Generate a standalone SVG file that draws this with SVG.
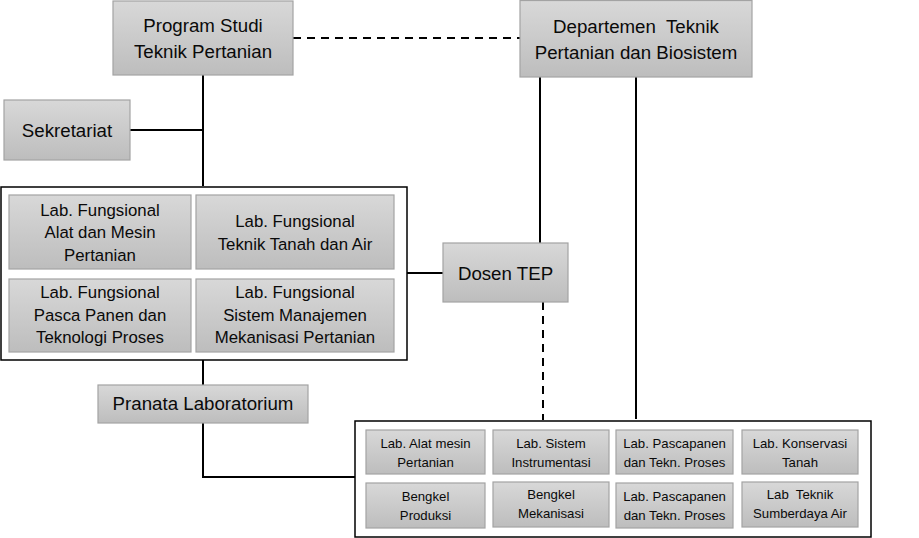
<svg xmlns="http://www.w3.org/2000/svg" width="919" height="538" viewBox="0 0 919 538">
<defs>
<linearGradient id="g" x1="0" y1="0" x2="0" y2="1">
<stop offset="0" stop-color="#d8d8d8"/>
<stop offset="1" stop-color="#bdbdbd"/>
</linearGradient>
<style>
.n{fill:url(#g);stroke:#a3a3a3;stroke-width:1.2}
.c{fill:#fff;stroke:#000;stroke-width:1.5}
.l{fill:none;stroke:#000;stroke-width:2}
.d{fill:none;stroke:#000;stroke-width:2;stroke-dasharray:8,6}
text{font-family:"Liberation Sans",Arial,sans-serif;fill:#0a0a0a;text-anchor:middle}
.t1{font-size:18.7px}
.t2{font-size:16.8px}
.t3{font-size:13.2px}
</style>
</defs>
<g id="connectors">
<path class="d" d="M293,38H520"/>
<path class="l" d="M203,75V186"/>
<path class="l" d="M130,130H203"/>
<path class="l" d="M540,77V243"/>
<path class="l" d="M636,77V419"/>
<path class="l" d="M407,273H443"/>
<path class="d" d="M543,302V420"/>
<path class="l" d="M203,360V385"/>
<path class="l" d="M203,423V477H355"/>
</g>
<g id="container-lab-fungsional"><rect class="c" x="1" y="187" width="406" height="173"/></g>
<g id="container-lab"><rect class="c" x="355" y="421" width="516" height="116"/></g>
<g id="prodi"><rect class="n" x="113" y="1" width="180" height="74"/><text class="t1" x="203" y="32">Program Studi</text><text class="t1" x="203" y="58">Teknik Pertanian</text></g>
<g id="departemen"><rect class="n" x="520" y="0.5" width="232" height="76.5"/><text class="t1" x="636" y="33" xml:space="preserve">Departemen  Teknik</text><text class="t1" x="636" y="59">Pertanian dan Biosistem</text></g>
<g id="sekretariat"><rect class="n" x="4" y="100" width="126" height="60"/><text class="t1" x="67" y="137">Sekretariat</text></g>
<g id="lab-alsin"><rect class="n" x="9" y="195" width="182" height="74"/><text class="t2" x="100" y="216">Lab. Fungsional</text><text class="t2" x="100" y="238">Alat dan Mesin</text><text class="t2" x="100" y="261">Pertanian</text></g>
<g id="lab-tta"><rect class="n" x="196" y="195" width="198" height="74"/><text class="t2" x="295" y="227">Lab. Fungsional</text><text class="t2" x="295" y="250">Teknik Tanah dan Air</text></g>
<g id="lab-pasca"><rect class="n" x="9" y="279" width="182" height="73"/><text class="t2" x="100" y="298">Lab. Fungsional</text><text class="t2" x="100" y="321">Pasca Panen dan</text><text class="t2" x="100" y="343">Teknologi Proses</text></g>
<g id="lab-smm"><rect class="n" x="196" y="279" width="198" height="73"/><text class="t2" x="295" y="298">Lab. Fungsional</text><text class="t2" x="295" y="321">Sistem Manajemen</text><text class="t2" x="295" y="343">Mekanisasi Pertanian</text></g>
<g id="dosen"><rect class="n" x="443" y="243" width="125" height="59"/><text class="t1" x="505.5" y="280">Dosen TEP</text></g>
<g id="pranata"><rect class="n" x="98" y="385" width="210" height="38"/><text class="t1" x="203" y="410">Pranata Laboratorium</text></g>
<g id="lab-alat"><rect class="n" x="366" y="430" width="119" height="44"/><text class="t3" x="425.5" y="448">Lab. Alat mesin</text><text class="t3" x="425.5" y="467">Pertanian</text></g>
<g id="lab-sistem"><rect class="n" x="493" y="430" width="116" height="44"/><text class="t3" x="551" y="448">Lab. Sistem</text><text class="t3" x="551" y="467">Instrumentasi</text></g>
<g id="lab-pascapanen-1"><rect class="n" x="616" y="430" width="117" height="44"/><text class="t3" x="674.5" y="448">Lab. Pascapanen</text><text class="t3" x="674.5" y="467">dan Tekn. Proses</text></g>
<g id="lab-konservasi"><rect class="n" x="742" y="430" width="116" height="44"/><text class="t3" x="800" y="448">Lab. Konservasi</text><text class="t3" x="800" y="467">Tanah</text></g>
<g id="bengkel-produksi"><rect class="n" x="366" y="483" width="119" height="45"/><text class="t3" x="425.5" y="501">Bengkel</text><text class="t3" x="425.5" y="520">Produksi</text></g>
<g id="bengkel-mekanisasi"><rect class="n" x="493" y="482" width="116" height="45"/><text class="t3" x="551" y="499">Bengkel</text><text class="t3" x="551" y="518">Mekanisasi</text></g>
<g id="lab-pascapanen-2"><rect class="n" x="616" y="483" width="117" height="45"/><text class="t3" x="674.5" y="501">Lab. Pascapanen</text><text class="t3" x="674.5" y="520">dan Tekn. Proses</text></g>
<g id="lab-sda"><rect class="n" x="742" y="482" width="116" height="45"/><text class="t3" x="800" y="499" xml:space="preserve">Lab  Teknik</text><text class="t3" x="800" y="518">Sumberdaya Air</text></g>
</svg>
